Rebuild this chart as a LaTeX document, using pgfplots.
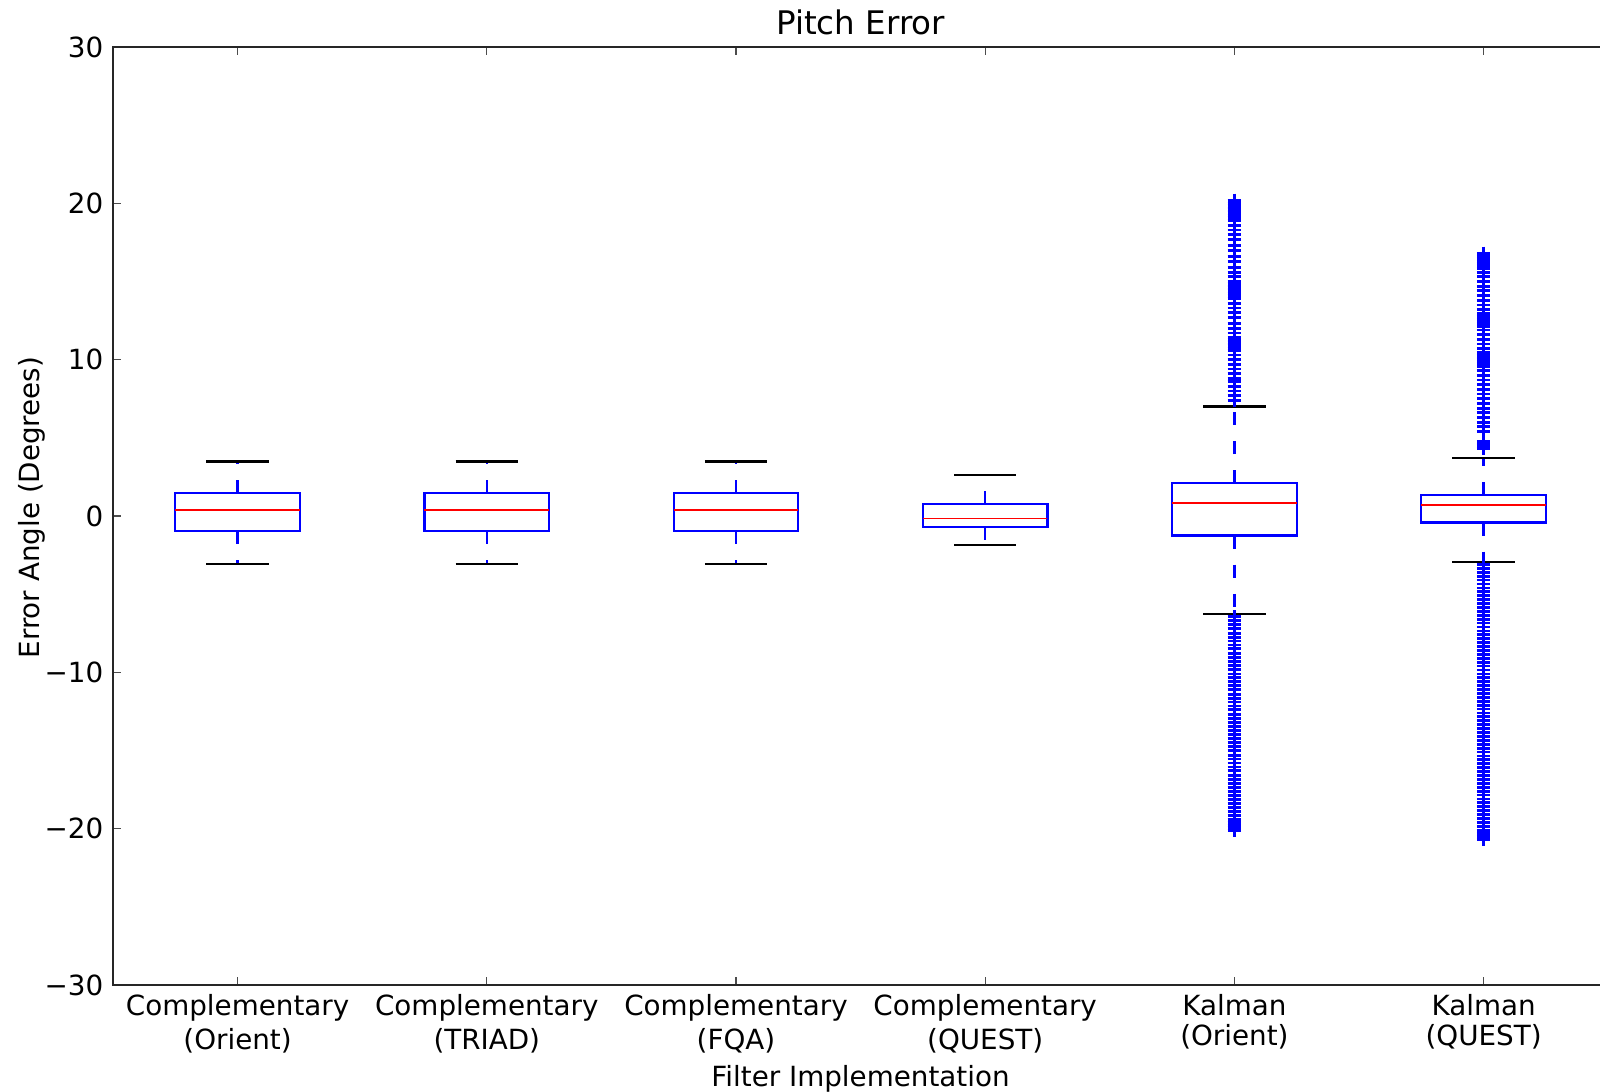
\documentclass[border=0pt]{standalone}
\usepackage{fontspec}
\setmainfont{DejaVu Sans}
\usepackage{pgfplots}
\pgfplotsset{compat=1.18}
\definecolor{mplblue}{rgb}{0,0,1}
\definecolor{mplred}{rgb}{1,0,0}
\pgfplotsset{
  boxln/.style={mplblue, line width=0.8pt, line join=miter},
  whisk/.style={mplblue, line width=0.8pt, dash pattern=on 4.7pt off 5.8pt},
  capln/.style={black, line width=0.8pt},
  medln/.style={mplred, line width=0.7pt},
  flier/.style={only marks, mark=+, mark size=2.4pt, mplblue, mark options={line width=1.0pt, solid}},
}
\begin{document}
\fontsize{10pt}{12pt}\selectfont
\begin{tikzpicture}
\begin{axis}[
  scale only axis,
  width=538.27pt, height=337.68pt,
  xmin=0.5, xmax=6.5, ymin=-30, ymax=30,
  xtick={1,2,3,4,5,6},
  xticklabels={{Complementary\\(Orient)},{Complementary\\(TRIAD)},{Complementary\\(FQA)},{Complementary\\(QUEST)},{Kalman\\[-1.6pt](Orient)},{Kalman\\[-1.6pt](QUEST)}},
  xticklabel style={align=center, font=\fontsize{10pt}{12.2pt}\selectfont},
  ytick={-30,-20,-10,0,10,20,30},
  yticklabels={−30,−20,−10,0,10,20,30},
  yticklabel style={font=\fontsize{10pt}{12pt}\selectfont},
  major tick length=2.9pt,
  tick align=inside,
  tick style={black!70, line width=0.4pt},
  axis line style={black!85, line width=0.8pt},
  every axis title shift=0pt,
  title={Pitch Error},
  title style={at={(axis description cs:0.5,1)}, anchor=base, yshift=4.4pt, font=\fontsize{11.7pt}{14pt}\selectfont},
  xlabel={Filter Implementation},
  xlabel style={at={(axis description cs:0.5,0)}, anchor=base, yshift=-36.4pt, font=\fontsize{10pt}{12pt}\selectfont},
  ylabel={Error Angle (Degrees)},
  ylabel style={at={(axis description cs:-0.0544,0.509)}, anchor=center, font=\fontsize{10pt}{12pt}\selectfont},
]
% ---- Box 1: Complementary (Orient)
\addplot[boxln] coordinates {(0.75,-0.95) (1.25,-0.95) (1.25,1.48) (0.75,1.48)} --cycle;
\addplot[whisk] coordinates {(1,1.48) (1,3.48)};
\addplot[whisk] coordinates {(1,-0.95) (1,-3.05)};
\addplot[capln] coordinates {(0.875,3.48) (1.125,3.48)};
\addplot[capln] coordinates {(0.875,-3.05) (1.125,-3.05)};
\addplot[medln] coordinates {(0.75,0.40) (1.25,0.40)};
% ---- Box 2: Complementary (TRIAD)
\addplot[boxln] coordinates {(1.75,-0.95) (2.25,-0.95) (2.25,1.48) (1.75,1.48)} --cycle;
\addplot[whisk] coordinates {(2,1.48) (2,3.48)};
\addplot[whisk] coordinates {(2,-0.95) (2,-3.05)};
\addplot[capln] coordinates {(1.875,3.48) (2.125,3.48)};
\addplot[capln] coordinates {(1.875,-3.05) (2.125,-3.05)};
\addplot[medln] coordinates {(1.75,0.40) (2.25,0.40)};
% ---- Box 3: Complementary (FQA)
\addplot[boxln] coordinates {(2.75,-0.95) (3.25,-0.95) (3.25,1.48) (2.75,1.48)} --cycle;
\addplot[whisk] coordinates {(3,1.48) (3,3.48)};
\addplot[whisk] coordinates {(3,-0.95) (3,-3.05)};
\addplot[capln] coordinates {(2.875,3.48) (3.125,3.48)};
\addplot[capln] coordinates {(2.875,-3.05) (3.125,-3.05)};
\addplot[medln] coordinates {(2.75,0.40) (3.25,0.40)};
% ---- Box 4: Complementary (QUEST)
\addplot[boxln] coordinates {(3.75,-0.69) (4.25,-0.69) (4.25,0.75) (3.75,0.75)} --cycle;
\addplot[whisk] coordinates {(4,0.75) (4,2.64)};
\addplot[whisk] coordinates {(4,-0.69) (4,-1.86)};
\addplot[capln] coordinates {(3.875,2.64) (4.125,2.64)};
\addplot[capln] coordinates {(3.875,-1.86) (4.125,-1.86)};
\addplot[medln] coordinates {(3.75,-0.16) (4.25,-0.16)};
% ---- Box 5: Kalman (Orient)
\addplot[boxln] coordinates {(4.75,-1.25) (5.25,-1.25) (5.25,2.10) (4.75,2.10)} --cycle;
\addplot[whisk] coordinates {(5,2.10) (5,7.0)};
\addplot[whisk] coordinates {(5,-1.25) (5,-6.29)};
\addplot[flier] coordinates {(5,7.4) (5,7.7) (5,8.0) (5,8.3) (5,8.6) (5,8.8) (5,9.1) (5,9.4) (5,9.7) (5,10.0) (5,10.3) (5,10.6) (5,10.75) (5,10.9) (5,11.0) (5,11.1) (5,11.2) (5,11.3) (5,11.45) (5,11.7) (5,12.0) (5,12.3) (5,12.7) (5,13.0) (5,13.3) (5,13.6) (5,13.9) (5,14.1) (5,14.25) (5,14.4) (5,14.5) (5,14.6) (5,14.7) (5,14.85) (5,15.0) (5,15.3) (5,15.6) (5,15.9) (5,16.3) (5,16.6) (5,17.0) (5,17.3) (5,17.7) (5,18.0) (5,18.3) (5,18.6) (5,18.9) (5,19.1) (5,19.25) (5,19.4) (5,19.5) (5,19.6) (5,19.7) (5,19.85) (5,20.0) (5,20.2)};
\addplot[flier] coordinates {(5,-6.45) (5,-6.7) (5,-6.95) (5,-7.2) (5,-7.5) (5,-7.75) (5,-8.0) (5,-8.25) (5,-8.5) (5,-8.8) (5,-9.05) (5,-9.3) (5,-9.55) (5,-9.8) (5,-10.1) (5,-10.35) (5,-10.6) (5,-10.85) (5,-11.1) (5,-11.4) (5,-11.65) (5,-11.9) (5,-12.15) (5,-12.4) (5,-12.7) (5,-12.95) (5,-13.2) (5,-13.45) (5,-13.7) (5,-14.0) (5,-14.25) (5,-14.5) (5,-14.75) (5,-15.0) (5,-15.3) (5,-15.55) (5,-15.8) (5,-16.05) (5,-16.3) (5,-16.6) (5,-16.85) (5,-17.1) (5,-17.35) (5,-17.6) (5,-17.9) (5,-18.15) (5,-18.4) (5,-18.65) (5,-18.9) (5,-19.15) (5,-19.4) (5,-19.6) (5,-19.8) (5,-19.95) (5,-20.1)};
\addplot[capln] coordinates {(4.875,7.0) (5.125,7.0)};
\addplot[capln] coordinates {(4.875,-6.29) (5.125,-6.29)};
\addplot[medln] coordinates {(4.75,0.86) (5.25,0.86)};
% ---- Box 6: Kalman (QUEST)
\addplot[boxln] coordinates {(5.75,-0.42) (6.25,-0.42) (6.25,1.34) (5.75,1.34)} --cycle;
\addplot[whisk] coordinates {(6,1.34) (6,3.69)};
\addplot[whisk] coordinates {(6,-0.42) (6,-2.92)};
\addplot[flier] coordinates {(6,4.3) (6,4.5) (6,4.6) (6,4.75) (6,5.4) (6,5.7) (6,6.0) (6,6.3) (6,6.6) (6,6.9) (6,7.2) (6,7.5) (6,7.8) (6,8.1) (6,8.4) (6,8.7) (6,9.0) (6,9.3) (6,9.55) (6,9.75) (6,9.9) (6,10.0) (6,10.1) (6,10.25) (6,10.45) (6,10.7) (6,11.0) (6,11.3) (6,11.6) (6,11.9) (6,12.1) (6,12.3) (6,12.45) (6,12.6) (6,12.75) (6,12.95) (6,13.2) (6,13.5) (6,13.8) (6,14.1) (6,14.4) (6,14.7) (6,15.0) (6,15.3) (6,15.6) (6,15.85) (6,16.0) (6,16.15) (6,16.3) (6,16.45) (6,16.6) (6,16.8)};
\addplot[flier] coordinates {(6,-3.1) (6,-3.35) (6,-3.6) (6,-3.85) (6,-4.1) (6,-4.35) (6,-4.6) (6,-4.85) (6,-5.1) (6,-5.35) (6,-5.6) (6,-5.85) (6,-6.1) (6,-6.35) (6,-6.6) (6,-6.85) (6,-7.1) (6,-7.35) (6,-7.6) (6,-7.85) (6,-8.1) (6,-8.35) (6,-8.6) (6,-8.85) (6,-9.1) (6,-9.35) (6,-9.6) (6,-9.85) (6,-10.1) (6,-10.35) (6,-10.6) (6,-10.85) (6,-11.1) (6,-11.35) (6,-11.6) (6,-11.85) (6,-12.1) (6,-12.35) (6,-12.6) (6,-12.85) (6,-13.1) (6,-13.35) (6,-13.6) (6,-13.85) (6,-14.1) (6,-14.35) (6,-14.6) (6,-14.85) (6,-15.1) (6,-15.35) (6,-15.6) (6,-15.85) (6,-16.1) (6,-16.35) (6,-16.6) (6,-16.85) (6,-17.1) (6,-17.35) (6,-17.6) (6,-17.85) (6,-18.1) (6,-18.35) (6,-18.6) (6,-18.85) (6,-19.1) (6,-19.35) (6,-19.6) (6,-19.85) (6,-20.1) (6,-20.3) (6,-20.5) (6,-20.7)};
\addplot[capln] coordinates {(5.875,3.69) (6.125,3.69)};
\addplot[capln] coordinates {(5.875,-2.92) (6.125,-2.92)};
\addplot[medln] coordinates {(5.75,0.73) (6.25,0.73)};
\end{axis}
\pgfresetboundingbox
\path[use as bounding box] (-40.68pt,-38.52pt) rectangle (535.32pt,354.6pt);
\end{tikzpicture}
\end{document}
